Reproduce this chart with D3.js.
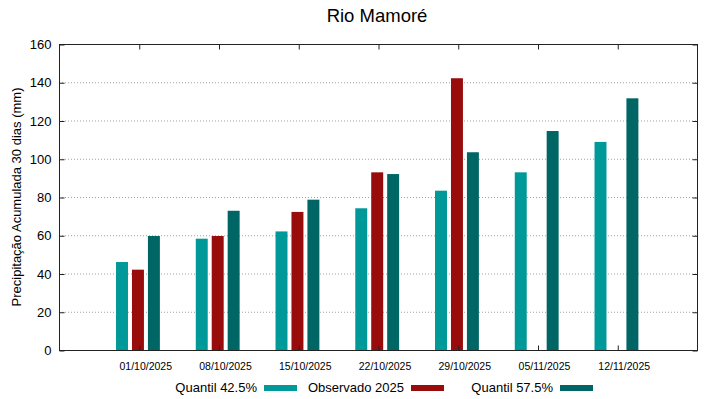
<!DOCTYPE html>
<html>
<head>
<meta charset="utf-8">
<script src="https://cdn.jsdelivr.net/npm/d3@7"></script>
<style>
  body { margin: 0; background: #fff; }
  text { font-family: "Liberation Sans", Arial, sans-serif; fill: #000; }
</style>
</head>
<body>
<div class="canvas"></div>
<script>
const dates = ['01/10/2025', '08/10/2025', '15/10/2025', '22/10/2025', '29/10/2025', '05/11/2025', '12/11/2025'];
const q425 = [46, 58.2, 62, 74.1, 83.3, 92.9, 108.8];
const observado = [42, 59.6, 72.2, 92.9, 142.1, null, null];
const q575 = [59.6, 72.8, 78.6, 92, 103.4, 114.5, 131.6];
const yTicks = [0, 20, 40, 60, 80, 100, 120, 140, 160];

const series = [
  { name: 'Quantil 42.5%', values: q425, color: '#009999', off: -0.21 },
  { name: 'Observado 2025', values: observado, color: '#990c0c', off: -0.01 },
  { name: 'Quantil 57.5%', values: q575, color: '#006565', off: 0.19 }
];

const dims = { width: 719, height: 399 };
const plot = { left: 59, right: 697, top: 44, bottom: 350 };

const svg = d3.select('.canvas')
  .append('svg')
  .attr('width', dims.width)
  .attr('height', dims.height);

const x = d3.scaleLinear().domain([-1, dates.length]).range([plot.left, plot.right]);
const y = d3.scaleLinear().domain([0, 160]).range([plot.bottom, plot.top]);
const barW = x(0.15) - x(0);

// grid
svg.append('g')
  .selectAll('line')
  .data(yTicks.filter(d => d > 0 && d < 160))
  .enter().append('line')
  .attr('x1', plot.left).attr('x2', plot.right)
  .attr('y1', d => y(d) + 0.5).attr('y2', d => y(d) + 0.5)
  .attr('stroke', '#a0a0a0')
  .attr('stroke-width', 1)
  .attr('stroke-dasharray', '1,2');

// bars
series.forEach(s => {
  svg.append('g')
    .selectAll('rect')
    .data(s.values.map((v, i) => ({ v, i })).filter(d => d.v != null))
    .enter().append('rect')
    .attr('x', d => x(d.i + s.off) - barW / 2)
    .attr('y', d => y(d.v))
    .attr('width', barW)
    .attr('height', d => y(0) - y(d.v))
    .attr('fill', s.color);
});

// border
svg.append('rect')
  .attr('x', plot.left + 0.5).attr('y', plot.top + 0.5)
  .attr('width', plot.right - plot.left).attr('height', plot.bottom - plot.top)
  .attr('fill', 'none')
  .attr('stroke', '#222')
  .attr('stroke-width', 1);

// y ticks (left and mirrored right)
const yAxisL = d3.axisLeft(y).tickValues(yTicks).tickSizeInner(-5).tickSizeOuter(0).tickPadding(8);
const gl = svg.append('g').attr('transform', `translate(${plot.left + 0.5},0.5)`).call(yAxisL);
gl.select('.domain').remove();
gl.selectAll('line').attr('stroke', '#222');
gl.selectAll('text').attr('font-size', 13).attr('fill', '#000')
  .attr('font-family', '"Liberation Sans", Arial, sans-serif');

const yAxisR = d3.axisRight(y).tickValues(yTicks).tickSizeInner(-5).tickSizeOuter(0).tickFormat('');
const gr = svg.append('g').attr('transform', `translate(${plot.right + 0.5},0.5)`).call(yAxisR);
gr.select('.domain').remove();
gr.selectAll('line').attr('stroke', '#222');

// x ticks (bottom and mirrored top)
const xIdx = d3.range(dates.length);
const xAxisB = d3.axisBottom(x).tickValues(xIdx).tickSizeInner(-5).tickSizeOuter(0)
  .tickFormat(i => dates[i]).tickPadding(12);
const gb = svg.append('g').attr('transform', `translate(0.5,${plot.bottom + 0.5})`).call(xAxisB);
gb.select('.domain').remove();
gb.selectAll('line').attr('stroke', '#222');
gb.selectAll('text').attr('font-size', 10.5).attr('fill', '#000').attr('dx', 6)
  .attr('font-family', '"Liberation Sans", Arial, sans-serif');

const xAxisT = d3.axisTop(x).tickValues(xIdx).tickSizeInner(-5).tickSizeOuter(0).tickFormat('');
const gt = svg.append('g').attr('transform', `translate(0.5,${plot.top + 0.5})`).call(xAxisT);
gt.select('.domain').remove();
gt.selectAll('line').attr('stroke', '#222');

// title
svg.append('text')
  .attr('x', 377).attr('y', 22)
  .attr('text-anchor', 'middle')
  .attr('font-size', 18.5)
  .text('Rio Mamoré');

// y label
svg.append('text')
  .attr('transform', `translate(21,${(plot.top + plot.bottom) / 2}) rotate(-90)`)
  .attr('text-anchor', 'middle')
  .attr('font-size', 13)
  .text('Precipitação Acumulada 30 dias (mm)');

// legend
const legendSwatchX = [264, 411, 560];
const legend = svg.append('g');
series.forEach((s, k) => {
  legend.append('text')
    .attr('x', legendSwatchX[k] - 7).attr('y', 392)
    .attr('text-anchor', 'end')
    .attr('font-size', 13)
    .text(s.name);
  legend.append('rect')
    .attr('x', legendSwatchX[k]).attr('y', 385)
    .attr('width', 33).attr('height', 6)
    .attr('fill', s.color);
});
</script>
</body>
</html>
